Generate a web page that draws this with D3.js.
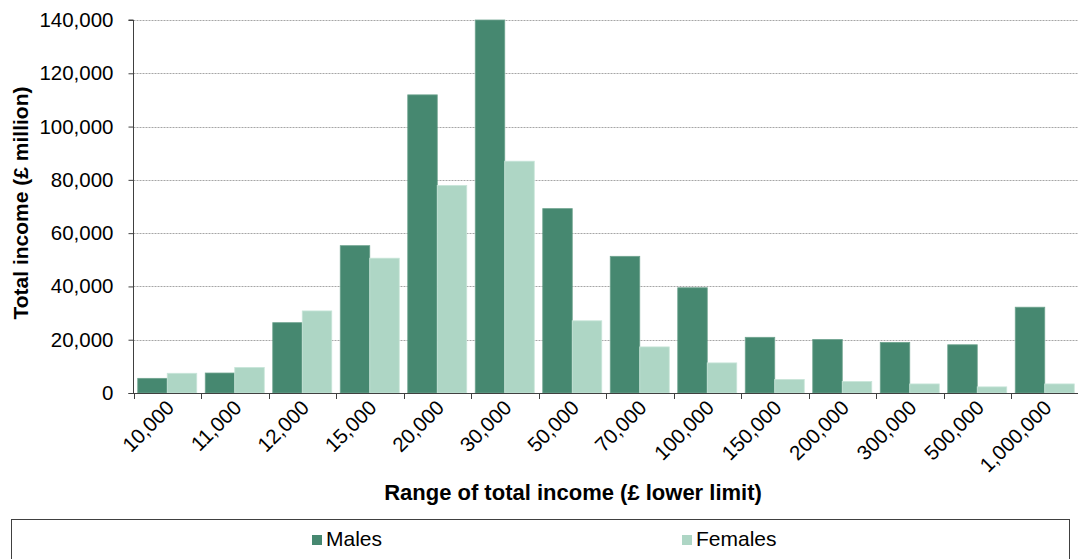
<!DOCTYPE html>
<html>
<head>
<meta charset="utf-8">
<script src="https://cdn.jsdelivr.net/npm/d3@7"></script>
<style>
  html, body { margin: 0; padding: 0; background: #fff; }
  svg { display: block; font-family: "Liberation Sans", Arial, sans-serif; }
</style>
</head>
<body>
<svg id="chart" width="1078" height="559"></svg>
<script>
// Income bands (lower limit, £)
const categories = ["10,000", "11,000", "12,000", "15,000", "20,000", "30,000", "50,000",
  "70,000", "100,000", "150,000", "200,000", "300,000", "500,000", "1,000,000"];
// Total income, £ million
const males   = [5500, 7500, 26400, 55300, 111900, 140000, 69200, 51300, 39500, 20900, 20100, 19000, 18100, 32200];
const females = [7400, 9600, 30800, 50600, 77900, 87000, 27100, 17300, 11300, 5100, 4300, 3400, 2300, 3400];
const seriesNames = ["Males", "Females"];
const yTicks = [0, 20000, 40000, 60000, 80000, 100000, 120000, 140000];

const colors = { Males: "#468870", Females: "#aed6c5" };
const svg = d3.select("#chart");

const plot = { left: 133.5, right: 1078.5, top: 20, bottom: 393 };

const x = d3.scaleBand().domain(categories).range([plot.left, plot.right])
  .paddingInner(0.126).paddingOuter(0.063);
const xs = d3.scaleBand().domain(seriesNames).range([0, x.bandwidth()]);
const y = d3.scaleLinear().domain([0, 140000]).range([plot.bottom, plot.top]);

// Horizontal gridlines
svg.append("g").selectAll("line").data(yTicks.slice(1)).join("line")
  .attr("x1", plot.left).attr("x2", 1078)
  .attr("y1", d => Math.round(y(d)) + 0.5).attr("y2", d => Math.round(y(d)) + 0.5)
  .attr("stroke", "#a6a6a6").attr("stroke-width", 1).attr("stroke-dasharray", "2,1");

// Bars
const rows = categories.map((c, i) => ({ cat: c, Males: males[i], Females: females[i] }));
const groups = svg.append("g").selectAll("g").data(rows).join("g")
  .attr("transform", d => `translate(${x(d.cat)},0)`);
groups.selectAll("rect").data(d => seriesNames.map(s => ({ s, v: d[s] }))).join("rect")
  .attr("x", d => xs(d.s))
  .attr("width", xs.bandwidth())
  .attr("y", d => y(d.v))
  .attr("height", d => y(0) - y(d.v))
  .attr("fill", d => colors[d.s])
  .attr("stroke", d => d.s === "Males" ? "#6fa48f" : "#c8e5d9")
  .attr("stroke-width", 0.8);

// Y axis
const yAxis = d3.axisLeft(y).tickValues(yTicks).tickSize(5).tickPadding(15)
  .tickFormat(d3.format(","));
const gy = svg.append("g").attr("transform", `translate(${plot.left},0)`).call(yAxis);
gy.select(".domain").attr("stroke", "#404040").attr("d", `M-5,${plot.top}H0V${plot.bottom}`);
gy.selectAll(".tick line").attr("stroke", "#404040");
gy.selectAll(".tick text").attr("font-size", 20.5).attr("fill", "#000")
  .attr("font-family", "Liberation Sans, Arial, sans-serif");

// X axis with ticks on band boundaries
const gx = svg.append("g").attr("transform", `translate(0,${plot.bottom})`);
gx.append("line").attr("x1", plot.left - 5).attr("x2", 1078).attr("y1", 0.5).attr("y2", 0.5)
  .attr("stroke", "#404040").attr("stroke-width", 1.2);
const boundaries = categories.map(c => x(c) - x.step() * x.paddingOuter());
gx.selectAll("line.tk").data(boundaries).join("line").attr("class", "tk")
  .attr("x1", d => Math.round(d) + 0.5).attr("x2", d => Math.round(d) + 0.5)
  .attr("y1", 0).attr("y2", 6).attr("stroke", "#404040");
gx.selectAll("text").data(categories).join("text")
  .attr("transform", d => `translate(${x(d) + x.bandwidth() / 2 + 8},${16}) rotate(-45)`)
  .attr("text-anchor", "end")
  .attr("font-size", 20.5).attr("fill", "#000")
  .text(d => d);

// Axis titles
svg.append("text")
  .attr("x", 573).attr("y", 500)
  .attr("text-anchor", "middle").attr("font-size", 22).attr("font-weight", "bold")
  .text("Range of total income (£ lower limit)");
svg.append("text")
  .attr("transform", "translate(28,203) rotate(-90)")
  .attr("text-anchor", "middle").attr("font-size", 21).attr("font-weight", "bold")
  .text("Total income (£ million)");

// Legend
svg.append("rect").attr("x", 11.5).attr("y", 519.5).attr("width", 1058).attr("height", 60)
  .attr("fill", "none").attr("stroke", "#404040").attr("stroke-width", 1);
const legendPos = { Males: 312, Females: 682 };
const lg = svg.append("g").selectAll("g").data(seriesNames).join("g")
  .attr("transform", d => `translate(${legendPos[d]},535)`);
lg.append("rect").attr("width", 10).attr("height", 10).attr("fill", d => colors[d]);
lg.append("text").attr("x", 14).attr("y", 11).attr("font-size", 21).attr("fill", "#000")
  .text(d => d);
</script>
</body>
</html>
